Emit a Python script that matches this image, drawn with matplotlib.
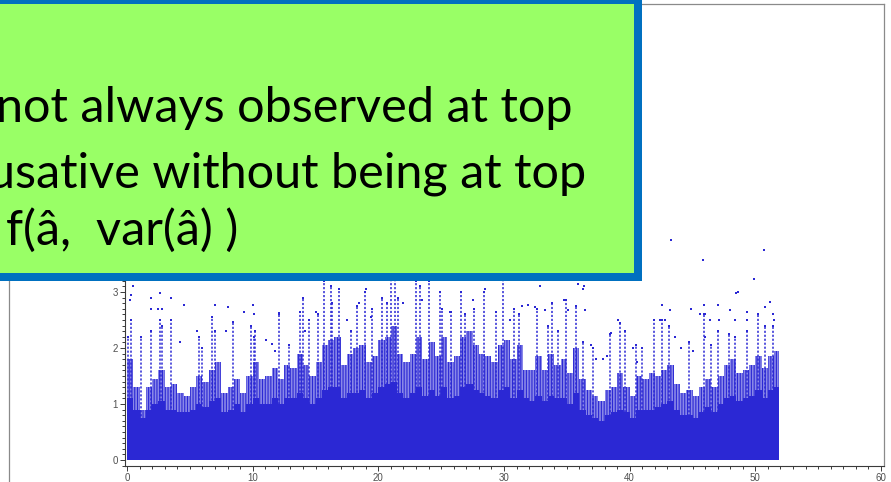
import numpy as np
import matplotlib
matplotlib.use("Agg")
import matplotlib.pyplot as plt
from matplotlib.patches import Rectangle
from matplotlib.lines import Line2D
from matplotlib.ticker import MultipleLocator, FixedLocator

# ---- genome-wide association scan (-log10 p along the map, cM) ----
genome_end = 51.9
bin_width = 0.5

# near-solid core of the cloud, one value per 0.5 cM bin
core_top = [
    1.1, 0.9, 0.75, 0.9, 1.0, 1.05, 0.9, 0.9, 0.85, 0.85,
    0.9, 1.0, 0.95, 1.05, 1.1, 0.85, 0.9, 1.0, 0.85, 1.0,
    1.1, 1.0, 1.0, 1.1, 1.0, 1.1, 1.1, 1.2, 1.1, 1.0,
    1.1, 1.25, 1.3, 1.3, 1.1, 1.2, 1.2, 1.25, 1.1, 1.2,
    1.3, 1.35,
    1.4, 1.2, 1.1, 1.2, 1.3, 1.15, 1.25, 1.15, 1.3, 1.1,
    1.15, 1.3, 1.35, 1.25, 1.2, 1.15, 1.1, 1.25, 1.3, 1.1,
    1.25,
    1.1, 1.05, 1.15, 1.05, 1.15, 1.1, 1.1, 1.0, 1.2, 0.9,
    0.8, 0.75, 0.7, 0.8, 0.85, 0.9, 0.85, 0.75, 0.9, 0.9,
    0.9,
    0.95, 1.0, 1.05, 0.9, 0.8, 0.8, 0.75, 0.85, 0.95, 0.85,
    1.0, 1.1, 1.15, 1.05, 1.1, 1.15, 1.25, 1.1, 1.25, 1.3,
]

# upper edge of the streaky, still dense part of the cloud
dense_top = [
    1.8, 1.3, 0.9, 1.3, 1.45, 1.6, 1.3, 1.35, 1.2, 1.15,
    1.3, 1.5, 1.4, 1.6, 1.75, 1.2, 1.3, 1.45, 1.2, 1.5,
    1.75, 1.45, 1.5, 1.65, 1.45, 1.7, 1.65, 1.9, 1.7, 1.5,
    1.75, 2.05, 2.15, 2.2, 1.7, 1.9, 2.0, 2.05, 1.75, 1.85,
    2.15, 2.2,
    2.4, 1.9, 1.75, 1.9, 2.2, 1.8, 2.1, 1.85, 2.2, 1.75,
    1.85, 2.2, 2.3, 2.05, 1.9, 1.85, 1.75, 2.05, 2.15, 1.8,
    2.05,
    1.6, 1.6, 1.85, 1.6, 1.9, 1.7, 1.8, 1.55, 2.0, 1.45,
    1.25, 1.15, 1.05, 1.25, 1.3, 1.55, 1.3, 1.15, 1.5, 1.45,
    1.55,
    1.5, 1.6, 1.7, 1.35, 1.2, 1.25, 1.15, 1.3, 1.45, 1.3,
    1.5, 1.7, 1.8, 1.55, 1.6, 1.7, 1.85, 1.65, 1.85, 1.95,
]

# columns of markers rising above the cloud (position, highest value)
streak_pos = [
    0.1, 0.3, 1.1, 1.9, 2.6, 2.75, 3.5, 5.7, 6.0, 6.8, 7.0, 8.4, 9.9, 10.1,
    10.2, 12.1, 12.9, 13.8, 14.0, 14.45, 15.2, 15.65, 16.2, 16.35, 16.9,
    17.8, 18.3, 18.9, 19.5, 20.3, 20.7,
    21.0, 21.3, 21.6, 23.0, 23.3, 24.0, 24.9, 25.1, 25.8, 26.6, 26.9, 27.6,
    28.4, 29.35, 29.9, 30.8, 31.2,
    32.6, 33.5, 33.8, 34.3, 34.9, 35.7, 36.3, 37.1, 38.4, 39.2, 39.6, 40.5,
    41.0, 41.9,
    42.6, 43.15, 44.7, 45.9, 46.5, 47.0, 47.9, 48.4, 49.3, 50.2, 50.8, 51.4,
]
streak_top = [
    2.2, 2.5, 2.2, 2.3, 2.5, 2.4, 2.5, 2.2, 2.0, 2.55, 2.3, 2.47, 2.4, 2.2,
    2.3, 2.6, 2.05, 2.65, 2.9, 2.5, 2.6, 3.2, 3.1, 2.8, 3.05,
    2.3, 2.75, 3.0, 2.7, 2.9, 2.8,
    3.3, 3.3, 2.9, 3.2, 3.1, 3.2, 3.0, 2.7, 2.65, 3.0, 2.6, 2.7,
    3.0, 2.65, 3.3, 2.7, 2.6,
    2.7, 2.4, 2.8, 2.3, 2.85, 2.75, 2.1, 2.0, 2.25, 2.45, 2.3, 2.05,
    2.0, 2.5,
    2.5, 2.4, 2.1, 2.6, 2.05, 2.3, 2.25, 2.2, 2.3, 2.6, 2.4, 2.4,
]

# isolated markers
dot_pos = [
    0.45, 0.2, 0.35, 1.9, 1.9, 2.65, 2.5, 2.8, 3.5, 4.55, 7.0, 7.9, 8.0,
    9.35, 10.0, 4.2, 5.6,
    10.1, 11.05, 11.5, 11.8, 12.1, 14.2, 15.0, 17.5, 18.5, 19.0, 19.4,
    22.0, 23.5, 25.7, 27.5, 28.5, 30.5, 31.4,
    32.86, 31.9, 32.5, 33.3, 33.8, 34.8, 35.1, 35.9, 36.4, 36.45, 36.9,
    37.3, 37.9, 38.2, 38.5, 39.1, 40.3, 40.6, 41.9, 36.3,
    43.26, 45.86, 50.72, 49.9, 48.5, 48.65, 42.6, 43.2, 42.4, 42.8, 44.9,
    45.9, 46.0, 45.6, 46.4, 47.0, 47.1, 48.0, 48.4, 49.3, 49.35, 50.8,
    51.2, 51.4, 51.5, 43.6, 46.0, 44.1, 45.0,
]
dot_val = [
    3.1, 2.85, 2.95, 2.9, 2.7, 2.98, 2.7, 2.7, 2.9, 2.77, 2.77, 2.3, 2.74,
    2.65, 2.77, 2.1, 2.3,
    2.6, 2.14, 2.08, 1.95, 2.62, 2.3, 2.65, 2.5, 2.8, 3.05, 2.55,
    2.8, 2.85, 2.65, 2.85, 3.05, 2.5, 2.75,
    3.1, 2.77, 2.74, 2.68, 2.8, 2.86, 2.68, 3.15, 3.1, 2.68, 2.05,
    1.8, 1.8, 1.85, 2.26, 2.5, 2.0, 1.75, 2.5, 3.05,
    3.93, 3.57, 3.75, 3.23, 2.98, 3.0, 2.77, 2.68, 2.5, 2.5, 2.7,
    2.77, 2.6, 2.6, 2.5, 2.77, 2.5, 2.68, 2.5, 2.65, 2.5, 2.74,
    2.83, 2.6, 2.5, 2.2, 2.2, 2.0, 1.95,
]

y_tick_values = [0, 1, 2, 3]

callout_lines = [
    "not always observed at top",
    "usative without being at top",
    "f(\u00e2,  var(\u00e2) )",
]

BLUE = "#2B28D4"
BLUE_LIGHT = "#8A88E8"
W, H = 891, 482

plt.rcParams["hatch.color"] = BLUE
plt.rcParams["hatch.linewidth"] = 0.8

fig = plt.figure(figsize=(W / 100, H / 100), dpi=100)
fig.patch.set_facecolor("white")

# axes box in pixels: left 125, right 884, bottom 466, top 4
ax = fig.add_axes([125 / W, (H - 466) / H, (884 - 125) / W, (466 - 4) / H])
px_per_x = (881 - 127) / 60.0
px_per_y = 56.0
ax.set_xlim(-2 / px_per_x, 60 + 3 / px_per_x)
ax.set_ylim(-6 / px_per_y, 456 / px_per_y)

edges = list(np.arange(0, genome_end, bin_width)) + [genome_end]
lefts = np.array(edges[:-1])
widths = np.diff(edges)
core = np.array(core_top)
dense = np.array(dense_top)

ax.bar(lefts, core, width=widths, align="edge", color=BLUE, linewidth=0, zorder=2)
ax.bar(lefts, dense - core, bottom=core, width=widths, align="edge",
       facecolor=BLUE_LIGHT, edgecolor=BLUE, hatch="||||||", linewidth=0, zorder=1.5)
ax.vlines(streak_pos, 0, streak_top, colors=BLUE, linewidth=1.1,
          linestyles=(0, (1.4, 1.2)), zorder=2)
ax.scatter(streak_pos, streak_top, s=4, marker="s", color=BLUE, linewidths=0, zorder=3)
ax.scatter(dot_pos, dot_val, s=4, marker="s", color=BLUE, linewidths=0, zorder=3)

# axes styling
for side in ("left", "bottom"):
    ax.spines[side].set_color("#3a3a3a")
    ax.spines[side].set_linewidth(0.8)
for side in ("top", "right"):
    ax.spines[side].set_color("#8a8a8a")
    ax.spines[side].set_linewidth(0.9)

ax.xaxis.set_major_locator(MultipleLocator(10))
ax.xaxis.set_minor_locator(MultipleLocator(1))
ax.yaxis.set_major_locator(FixedLocator(y_tick_values))
ax.yaxis.set_minor_locator(MultipleLocator(0.1))
ax.tick_params(which="both", direction="out", color="#3a3a3a", width=0.7,
               labelsize=7, labelcolor="#505050", top=False, right=False)
ax.tick_params(which="major", length=3.5, pad=1.5)
ax.tick_params(which="minor", length=2)
for lbl in ax.get_xticklabels() + ax.get_yticklabels():
    lbl.set_fontfamily("Liberation Sans")

# outer frame line on the left
fig.add_artist(Line2D([8.5 / W, 8.5 / W], [0, 1], transform=fig.transFigure,
                      color="#8a8a8a", linewidth=0.9, zorder=1))

# green callout box with blue border
box_left, box_right = -20, 638
box_top, box_bottom = -0.5, 277
fig.add_artist(Rectangle((box_left / W, (H - box_bottom) / H),
                         (box_right - box_left) / W, (box_bottom - box_top) / H,
                         transform=fig.transFigure, facecolor="#99FF66",
                         edgecolor="#0070C0", linewidth=8 * 0.72, zorder=5))

line_right = [572, 586, 238]
line_base = [122, 187, 245]
for txt, xr, yb in zip(callout_lines, line_right, line_base):
    fig.text(xr / W, (H - yb) / H, txt, ha="right", va="baseline",
             fontsize=35, family="Lato", color="black", zorder=6)

fig.savefig("out.png", dpi=100)
